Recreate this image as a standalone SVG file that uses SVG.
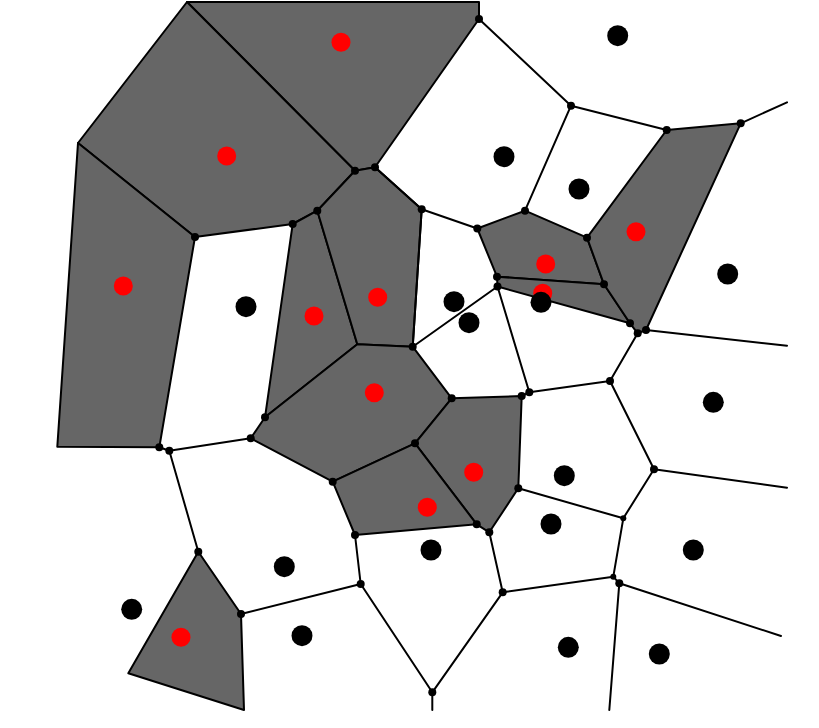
<svg xmlns="http://www.w3.org/2000/svg" width="819" height="728" viewBox="0 0 819 728">
<style>
.cell{fill:#666666;stroke:#000;stroke-width:2;stroke-linejoin:round}
.e{stroke:#000;stroke-width:2;fill:none;stroke-linecap:round}
.v{fill:#000}
.r{fill:#ff0000}
.b{fill:#000}
</style>
<rect width="819" height="728" fill="#fff"/>
<g id="cells">
<g id="cell-r1"><polygon class="cell" points="187,2 479,2 479,19 375,167.3 355,170.7"/></g>
<g id="cell-r2"><polygon class="cell" points="78,143 187,2 355,170.7 317.3,210.7 292.7,224 195,237"/></g>
<g id="cell-r3"><polygon class="cell" points="78,143 195,237 159.3,447.3 57.3,446.7"/></g>
<g id="cell-r4"><polygon class="cell" points="292.7,224 317.3,210.7 357.3,344.3 265,417.3"/></g>
<g id="cell-r5"><polygon class="cell" points="317.3,210.7 355,170.7 375,167.3 421.7,209.3 412.7,346.7 357.3,344.3"/></g>
<g id="cell-r6"><polygon class="cell" points="357.3,344.3 412.7,346.7 451.7,398.3 415,443.3 332.7,481.7 250.7,438.3 265,417.3"/></g>
<g id="cell-r7"><polygon class="cell" points="415,443.3 451.7,398.3 521.7,396 518.3,488.3 489.3,532.3 476.7,524.3"/></g>
<g id="cell-r8"><polygon class="cell" points="332.7,481.7 415,443.3 476.7,524.3 355,535"/></g>
<g id="cell-r9"><polygon class="cell" points="198.3,551.7 241,614 244,710 128.3,673.3"/></g>
<g id="cell-r10"><polygon class="cell" points="477.3,228.5 525,210.7 587,237.7 604,284.3 497,276.7"/></g>
<g id="cell-r11"><polygon class="cell" points="497,276.7 604,284.3 630,323.3 497.5,286.5"/></g>
<g id="cell-r12"><polygon class="cell" points="587,237.7 666.7,130 740.7,123.3 646,330 637.7,333.3 630,323.3 604,284.3"/></g>
</g>
<g id="edges">
<line class="e" x1="479" y1="19" x2="571" y2="105.7"/>
<line class="e" x1="571" y1="105.7" x2="666.7" y2="130"/>
<line class="e" x1="571" y1="105.7" x2="525" y2="210.7"/>
<line class="e" x1="740.7" y1="123.3" x2="787" y2="102.3"/>
<line class="e" x1="375" y1="167.3" x2="421.7" y2="209.3"/>
<line class="e" x1="421.7" y1="209.3" x2="477.3" y2="228.5"/>
<line class="e" x1="421.7" y1="209.3" x2="412.7" y2="346.7"/>
<line class="e" x1="412.7" y1="346.7" x2="497.5" y2="286.5"/>
<line class="e" x1="497.5" y1="286.5" x2="529.3" y2="392.3"/>
<line class="e" x1="637.7" y1="333.3" x2="610" y2="381"/>
<line class="e" x1="646" y1="330" x2="787" y2="345.7"/>
<line class="e" x1="529.3" y1="392.3" x2="610" y2="381"/>
<line class="e" x1="521.7" y1="396" x2="529.3" y2="392.3"/>
<line class="e" x1="610" y1="381" x2="654" y2="469.3"/>
<line class="e" x1="654" y1="469.3" x2="787" y2="487.7"/>
<line class="e" x1="654" y1="469.3" x2="623.3" y2="518.3"/>
<line class="e" x1="518.3" y1="488.3" x2="623.3" y2="518.3"/>
<line class="e" x1="623.3" y1="518.3" x2="613.3" y2="576.7"/>
<line class="e" x1="613.3" y1="576.7" x2="619.3" y2="583.3"/>
<line class="e" x1="619.3" y1="583.3" x2="781" y2="636"/>
<line class="e" x1="619.3" y1="583.3" x2="609.3" y2="710"/>
<line class="e" x1="502.7" y1="592.3" x2="613.3" y2="576.7"/>
<line class="e" x1="489.3" y1="532.3" x2="502.7" y2="592.3"/>
<line class="e" x1="502.7" y1="592.3" x2="432.3" y2="692.3"/>
<line class="e" x1="432.3" y1="692.3" x2="432.3" y2="710"/>
<line class="e" x1="360.7" y1="584" x2="432.3" y2="692.3"/>
<line class="e" x1="355" y1="535" x2="360.7" y2="584"/>
<line class="e" x1="241" y1="614" x2="360.7" y2="584"/>
<line class="e" x1="169.3" y1="450.7" x2="198.3" y2="551.7"/>
<line class="e" x1="159.3" y1="447.3" x2="169.3" y2="450.7"/>
<line class="e" x1="169.3" y1="450.7" x2="250.7" y2="438.3"/>
</g>
<g id="vertices">
<circle class="v" cx="479" cy="19" r="4"/>
<circle class="v" cx="571" cy="105.7" r="4"/>
<circle class="v" cx="666.7" cy="130" r="4"/>
<circle class="v" cx="740.7" cy="123.3" r="4"/>
<circle class="v" cx="355" cy="170.7" r="4"/>
<circle class="v" cx="375" cy="167.3" r="4"/>
<circle class="v" cx="317.3" cy="210.7" r="4"/>
<circle class="v" cx="292.7" cy="224" r="4"/>
<circle class="v" cx="195" cy="237" r="4"/>
<circle class="v" cx="421.7" cy="209.3" r="4"/>
<circle class="v" cx="477.3" cy="228.5" r="4"/>
<circle class="v" cx="525" cy="210.7" r="4"/>
<circle class="v" cx="587" cy="237.7" r="4"/>
<circle class="v" cx="497" cy="276.7" r="4"/>
<circle class="v" cx="497.5" cy="286.5" r="4"/>
<circle class="v" cx="604" cy="284.3" r="4"/>
<circle class="v" cx="630" cy="323.3" r="4"/>
<circle class="v" cx="637.7" cy="333.3" r="4"/>
<circle class="v" cx="646" cy="330" r="4"/>
<circle class="v" cx="412.7" cy="346.7" r="4"/>
<circle class="v" cx="265" cy="417.3" r="4"/>
<circle class="v" cx="250.7" cy="438.3" r="4"/>
<circle class="v" cx="159.3" cy="447.3" r="4"/>
<circle class="v" cx="169.3" cy="450.7" r="4"/>
<circle class="v" cx="332.7" cy="481.7" r="4"/>
<circle class="v" cx="415" cy="443.3" r="4"/>
<circle class="v" cx="451.7" cy="398.3" r="4"/>
<circle class="v" cx="521.7" cy="396" r="4"/>
<circle class="v" cx="529.3" cy="392.3" r="4"/>
<circle class="v" cx="610" cy="381" r="4"/>
<circle class="v" cx="654" cy="469.3" r="4"/>
<circle class="v" cx="518.3" cy="488.3" r="4"/>
<circle class="v" cx="476.7" cy="524.3" r="4"/>
<circle class="v" cx="489.3" cy="532.3" r="4"/>
<circle class="v" cx="623.3" cy="518.3" r="3"/>
<circle class="v" cx="613.3" cy="576.7" r="3"/>
<circle class="v" cx="619.3" cy="583.3" r="4"/>
<circle class="v" cx="502.7" cy="592.3" r="4"/>
<circle class="v" cx="432.3" cy="692.3" r="4"/>
<circle class="v" cx="360.7" cy="584" r="4"/>
<circle class="v" cx="355" cy="535" r="4"/>
<circle class="v" cx="241" cy="614" r="4"/>
<circle class="v" cx="198.3" cy="551.7" r="4"/>
</g>
<g id="sites">
<circle class="r" cx="341" cy="42.3" r="9.5"/>
<circle class="r" cx="226.7" cy="156" r="9.5"/>
<circle class="r" cx="123.3" cy="286" r="9.5"/>
<circle class="r" cx="314" cy="316" r="9.5"/>
<circle class="r" cx="377.7" cy="297.3" r="9.5"/>
<circle class="r" cx="374.3" cy="392.7" r="9.5"/>
<circle class="r" cx="473.7" cy="472.3" r="9.5"/>
<circle class="r" cx="427.3" cy="507.3" r="9.5"/>
<circle class="r" cx="181" cy="637.3" r="9.5"/>
<circle class="r" cx="545.7" cy="264" r="9.5"/>
<circle class="r" cx="542.7" cy="293.3" r="9.5"/>
<circle class="r" cx="636" cy="231.7" r="9.5"/>
<circle class="b" cx="617.7" cy="35.7" r="10.5"/>
<circle class="b" cx="504" cy="156.7" r="10.5"/>
<circle class="b" cx="579" cy="189" r="10.5"/>
<circle class="b" cx="727.7" cy="274" r="10.5"/>
<circle class="b" cx="454" cy="301.7" r="10.5"/>
<circle class="b" cx="469" cy="322.7" r="10.5"/>
<circle class="b" cx="541" cy="302.3" r="10.5"/>
<circle class="b" cx="246" cy="306.7" r="10.5"/>
<circle class="b" cx="713.3" cy="402.3" r="10.5"/>
<circle class="b" cx="564.3" cy="475.7" r="10.5"/>
<circle class="b" cx="551" cy="524" r="10.5"/>
<circle class="b" cx="693.3" cy="550" r="10.5"/>
<circle class="b" cx="431" cy="550" r="10.5"/>
<circle class="b" cx="568.3" cy="647.3" r="10.5"/>
<circle class="b" cx="659.3" cy="654" r="10.5"/>
<circle class="b" cx="284.3" cy="566.7" r="10.5"/>
<circle class="b" cx="131.7" cy="609.3" r="10.5"/>
<circle class="b" cx="302" cy="635.7" r="10.5"/>
</g>
</svg>
